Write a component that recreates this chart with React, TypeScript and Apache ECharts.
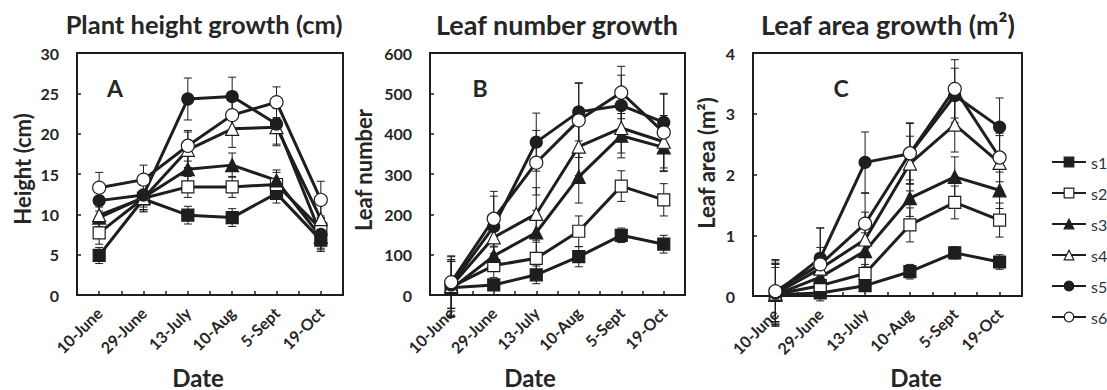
import React, { useEffect, useRef } from "react";
import * as echarts from "echarts";

const dates = ["10-June", "29-June", "13-July", "10-Aug", "5-Sept", "19-Oct"];
const seriesNames = ["s1", "s2", "s3", "s4", "s5", "s6"];

// Panel A: plant height (cm)
const heightS1 = [4.9, 11.9, 9.9, 9.6, 12.6, 6.8];
const heightS2 = [7.7, 12.0, 13.4, 13.4, 13.7, 8.2];
const heightS3 = [9.6, 12.1, 15.6, 16.1, 14.2, 7.2];
const heightS4 = [9.9, 12.0, 18.0, 20.6, 20.8, 9.4];
const heightS5 = [11.7, 12.4, 24.3, 24.6, 21.2, 7.5];
const heightS6 = [13.3, 14.3, 18.5, 22.3, 23.9, 11.8];
const heightErrS1 = [1.0, 1.0, 1.1, 1.1, 1.2, 1.2];
const heightErrS2 = [1.4, 1.6, 1.3, 1.3, 1.5, 1.6];
const heightErrS3 = [1.3, 1.5, 1.7, 1.5, 1.3, 1.4];
const heightErrS4 = [1.4, 1.7, 2.2, 2.3, 2.3, 2.0];
const heightErrS5 = [1.3, 1.8, 2.6, 2.4, 2.5, 2.1];
const heightErrS6 = [1.9, 1.8, 1.9, 2.1, 1.9, 2.3];

// Panel B: leaf number
const leafS1 = [18, 25, 50, 95, 148, 126];
const leafS2 = [20, 73, 91, 158, 270, 236];
const leafS3 = [15, 97, 155, 293, 395, 366];
const leafS4 = [22, 143, 201, 368, 414, 380];
const leafS5 = [25, 170, 379, 454, 470, 428];
const leafS6 = [32, 189, 328, 433, 502, 403];
const leafErrS1 = [70, 12, 22, 25, 18, 22];
const leafErrS2 = [75, 30, 40, 38, 38, 40];
const leafErrS3 = [68, 22, 55, 65, 55, 60];
const leafErrS4 = [62, 45, 65, 72, 62, 65];
const leafErrS5 = [58, 75, 72, 72, 75, 72];
const leafErrS6 = [65, 68, 80, 92, 65, 95];

// Panel C: leaf area (m2)
const areaS1 = [0.02, 0.05, 0.17, 0.4, 0.71, 0.56];
const areaS2 = [0.03, 0.17, 0.37, 1.17, 1.54, 1.25];
const areaS3 = [0.02, 0.31, 0.74, 1.61, 1.96, 1.74];
const areaS4 = [0.04, 0.45, 0.93, 2.18, 2.82, 2.19];
const areaS5 = [0.05, 0.62, 2.2, 2.34, 3.3, 2.78];
const areaS6 = [0.08, 0.52, 1.19, 2.35, 3.41, 2.28];
const areaErrS1 = [0.5, 0.08, 0.08, 0.12, 0.1, 0.12];
const areaErrS2 = [0.5, 0.12, 0.15, 0.28, 0.27, 0.28];
const areaErrS3 = [0.45, 0.2, 0.3, 0.3, 0.33, 0.3];
const areaErrS4 = [0.5, 0.35, 0.45, 0.45, 0.45, 0.45];
const areaErrS5 = [0.55, 0.5, 0.5, 0.5, 0.45, 0.48];
const areaErrS6 = [0.5, 0.6, 0.5, 0.5, 0.48, 0.4];

const yTicksA = { min: 0, max: 30, interval: 5 };
const yTicksB = { min: 0, max: 600, interval: 100 };
const yTicksC = { min: 0, max: 4, interval: 1 };

const FONT = "Lato";
const INK = "#1e1e1e";
const TXT = "#262626";

const panels = [
  {
    values: [heightS1, heightS2, heightS3, heightS4, heightS5, heightS6],
    errors: [heightErrS1, heightErrS2, heightErrS3, heightErrS4, heightErrS5, heightErrS6],
    ticks: yTicksA,
    grid: { left: 77, top: 53, width: 266, height: 242 },
  },
  {
    values: [leafS1, leafS2, leafS3, leafS4, leafS5, leafS6],
    errors: [leafErrS1, leafErrS2, leafErrS3, leafErrS4, leafErrS5, leafErrS6],
    ticks: yTicksB,
    grid: { left: 430, top: 53, width: 255, height: 242 },
  },
  {
    values: [areaS1, areaS2, areaS3, areaS4, areaS5, areaS6],
    errors: [areaErrS1, areaErrS2, areaErrS3, areaErrS4, areaErrS5, areaErrS6],
    ticks: yTicksC,
    grid: { left: 753, top: 53, width: 269, height: 243 },
  },
];

const markerStyles = [
  { symbol: "rect", size: 12, fill: INK },
  { symbol: "rect", size: 12, fill: "#ffffff" },
  { symbol: "triangle", size: 13, fill: INK },
  { symbol: "triangle", size: 13, fill: "#ffffff" },
  { symbol: "circle", size: 12, fill: INK },
  { symbol: "circle", size: 13, fill: "#ffffff" },
];

function buildOption() {
  const grids: any[] = [];
  const xAxes: any[] = [];
  const yAxes: any[] = [];
  const series: any[] = [];

  panels.forEach((p, pi) => {
    grids.push({ ...p.grid, show: true, borderColor: INK, borderWidth: 2, backgroundColor: "transparent" });
    xAxes.push({
      type: "category",
      gridIndex: pi,
      data: dates,
      boundaryGap: true,
      axisLine: { lineStyle: { color: INK, width: 2 } },
      axisTick: { show: true, inside: true, interval: 0, alignWithLabel: false, length: 4, lineStyle: { color: INK, width: 1.5 } },
      axisLabel: { interval: 0, rotate: 45, margin: 15, fontFamily: FONT, fontWeight: "bold", fontSize: 16, color: TXT },
      splitLine: { show: false },
    });
    xAxes.push({
      type: "category",
      gridIndex: pi,
      data: dates,
      boundaryGap: true,
      position: "bottom",
      axisLine: { show: false },
      axisTick: { show: true, inside: true, interval: 0, alignWithLabel: true, length: 4, lineStyle: { color: INK, width: 1.5 } },
      axisLabel: { show: false },
      splitLine: { show: false },
    });
    yAxes.push({
      type: "value",
      gridIndex: pi,
      min: p.ticks.min,
      max: p.ticks.max,
      interval: p.ticks.interval,
      axisLine: { show: true, lineStyle: { color: INK, width: 2 } },
      axisTick: { show: true, inside: true, length: 4, lineStyle: { color: INK, width: 1.5 } },
      axisLabel: { margin: 18, fontFamily: FONT, fontWeight: "bold", fontSize: 16, color: TXT },
      splitLine: { show: false },
    });

    const errData: any[] = [];
    p.values.forEach((vals, si) => {
      vals.forEach((v, i) => {
        const e = p.errors[si][i];
        errData.push([i, v - e, v + e]);
      });
    });
    series.push({
      type: "custom",
      name: "err" + pi,
      xAxisIndex: pi * 2,
      yAxisIndex: pi,
      clip: false,
      z: 1,
      silent: true,
      encode: { x: 0, y: [1, 2] },
      data: errData,
      renderItem: (params: any, api: any) => {
        const x = api.value(0);
        const lo = api.coord([x, api.value(1)]);
        const hi = api.coord([x, api.value(2)]);
        const w = 4;
        const style = { stroke: INK, lineWidth: 1 };
        return {
          type: "group",
          children: [
            { type: "line", shape: { x1: hi[0], y1: hi[1], x2: lo[0], y2: lo[1] }, style },
            { type: "line", shape: { x1: hi[0] - w, y1: hi[1], x2: hi[0] + w, y2: hi[1] }, style },
            { type: "line", shape: { x1: lo[0] - w, y1: lo[1], x2: lo[0] + w, y2: lo[1] }, style },
          ],
        };
      },
    });

    p.values.forEach((vals, si) => {
      const m = markerStyles[si];
      series.push({
        type: "line",
        name: seriesNames[si],
        xAxisIndex: pi * 2,
        yAxisIndex: pi,
        data: vals,
        z: 3,
        symbol: m.symbol,
        symbolSize: m.size,
        showSymbol: true,
        clip: false,
        lineStyle: { color: INK, width: 3 },
        itemStyle: { color: m.fill, borderColor: INK, borderWidth: 1.2 },
        emphasis: { disabled: true },
      });
    });
  });

  const txt = (text: string, x: number, y: number, size: number, rot = 0, weight = "bold") => ({
    type: "text",
    x,
    y,
    rotation: rot,
    style: { text, fontFamily: FONT, fontWeight: weight, fontSize: size, fill: TXT, align: "center", verticalAlign: "middle" },
  });

  const graphic = [
    txt("Plant height growth (cm)", 204, 24, 25.5),
    txt("Leaf number growth", 557, 24, 27),
    txt("Leaf area growth (m²)", 888, 24, 27),
    txt("A", 115, 88, 23),
    txt("B", 480, 88, 23),
    txt("C", 841, 88, 23),
    txt("Height (cm)", 22, 169, 22, Math.PI / 2),
    txt("Leaf number", 363, 170, 22, Math.PI / 2),
    txt("Leaf area (m²)", 706, 163, 22, Math.PI / 2),
    txt("Date", 198, 377, 24),
    txt("Date", 530, 377, 24),
    txt("Date", 916, 377, 24),
  ];

  return {
    animation: false,
    backgroundColor: "#ffffff",
    grid: grids,
    xAxis: xAxes,
    yAxis: yAxes,
    series,
    graphic,
    legend: {
      orient: "vertical",
      left: 1051,
      top: 154,
      padding: 0,
      data: seriesNames,
      itemWidth: 34,
      itemHeight: 12,
      itemGap: 15,
      itemStyle: { borderColor: INK, borderWidth: 1.2 },
      textStyle: { fontFamily: FONT, fontSize: 16, color: "#333", lineHeight: 16 },
      selectedMode: false,
    },
  };
}

export default function App() {
  const ref = useRef<HTMLDivElement>(null);
  useEffect(() => {
    if (!ref.current) return;
    const chart = echarts.init(ref.current, undefined, { renderer: "svg" });
    chart.setOption(buildOption() as any);
    return () => chart.dispose();
  }, []);
  return <div ref={ref} style={{ position: "fixed", left: 0, top: 0, width: 1107, height: 390, background: "#fff" }} />;
}
